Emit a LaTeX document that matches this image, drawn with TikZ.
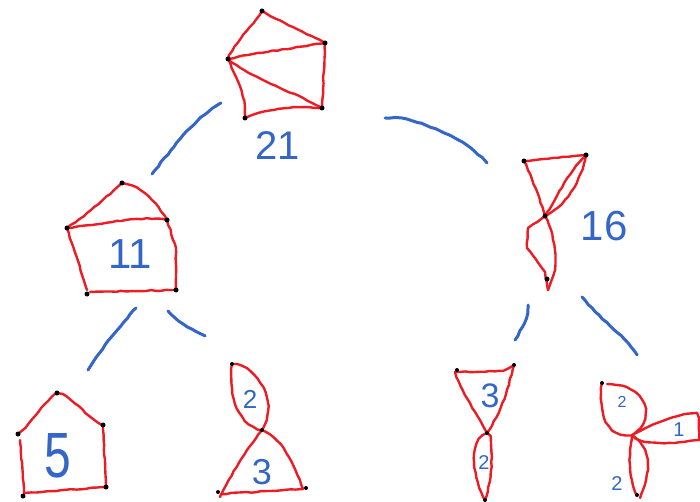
\documentclass[tikz,border=0pt]{standalone}
\usepackage{fontspec}
\setmainfont{Liberation Sans}
\usetikzlibrary{decorations.pathmorphing}
\definecolor{pred}{RGB}{237,28,36}
\definecolor{pblue}{RGB}{52,102,200}
\tikzset{
  redline/.style={draw=pred,line width=2.4pt,line cap=round,line join=round,
    decorate,decoration={random steps,segment length=5pt,amplitude=0.5pt}},
  arcline/.style={draw=pblue,line width=3pt,line cap=round,line join=round,
    decorate,decoration={random steps,segment length=5pt,amplitude=0.6pt}},
  vdot/.style={fill=black,circle,inner sep=0pt,minimum size=5pt},
  lbl/.style={text=pblue,inner sep=0pt,font=\fontsize{#1}{#1}\selectfont},
}
\begin{document}
\begin{tikzpicture}[x=1pt,y=-1pt]
\pgfmathsetseed{7}
\useasboundingbox (0,0) rectangle (700,502);
\fill[white] (0,0) rectangle (700,502);

% ---------- top graph (21)
\coordinate (tT) at (262,11);
\coordinate (tR) at (325,43);
\coordinate (tL) at (228,59);
\coordinate (tBR) at (322,108);
\coordinate (tBL) at (245,118);
\draw[redline] (tT) .. controls (280,22) and (300,30) .. (tR);
\draw[redline] (tT) .. controls (245,35) and (235,42) .. (tL);
\draw[redline] (tL) .. controls (260,52) and (295,48) .. (tR);
\draw[redline] (tL) .. controls (255,80) and (290,90) .. (tBR);
\draw[redline] (tL) .. controls (240,85) and (245,95) .. (tBL);
\draw[redline] (tBL) .. controls (270,108) and (295,106) .. (tBR);
\draw[redline] (tR) -- (tBR);
\foreach \p in {tT,tR,tL,tBR,tBL} \node[vdot] at (\p) {};
\node[lbl=40] (l21) at (278,146) {21};

% ---------- graph 11
\coordinate (aT) at (122,183);
\coordinate (aR) at (167,220);
\coordinate (aL) at (67,228);
\coordinate (aK) at (176,248);
\coordinate (aBR) at (176,290);
\coordinate (aBL) at (87,294);
\draw[redline] (aL) .. controls (90,212) and (105,198) .. (aT);
\draw[redline] (aT) .. controls (140,186) and (155,200) .. (aR);
\draw[redline] (aL) .. controls (100,225) and (140,215) .. (aR);
\draw[redline] (aR) -- (aK) -- (aBR);
\draw[redline] (aBR) -- (90,292);
\draw[redline] (aL) -- (87,290);
\foreach \p in {aT,aR,aL,aBR,aBL} \node[vdot] at (\p) {};
\node[lbl=42] (l11) at (130,254) {11};

% ---------- graph 16
\coordinate (cTL) at (524,161);
\coordinate (cTR) at (586,155);
\coordinate (cM) at (545,216);
\coordinate (cB) at (547,279);
\draw[redline] (cTL) -- (cTR);
\draw[redline] (cTL) .. controls (535,185) and (540,200) .. (cM);
\draw[redline] (cTR) .. controls (570,170) and (555,200) .. (cM);
\draw[redline] (cTR) .. controls (580,185) and (565,205) .. (cM);
\draw[redline] (cM) -- (528,228) -- (527,248) -- (535,258) -- (545,272) -- (548,290);
\draw[redline] (cM) .. controls (554,235) and (556,250) .. (555,270) -- (548,290);
\foreach \p in {cTL,cTR,cM,cB} \node[vdot] at (\p) {};
\node[lbl=42] (l16) at (604,226) {16};

% ---------- graph 5
\coordinate (dT) at (57,393);
\coordinate (dR) at (103,425);
\coordinate (dBR) at (106,487);
\coordinate (dBL) at (23,496);
\coordinate (dL) at (18,434);
\draw[redline] (dT) -- (63,394) .. controls (80,405) and (90,420) .. (dR);
\draw[redline] (dR) -- (dBR) -- (24,493) -- (20,440);
\draw[redline] (dL) .. controls (35,420) and (45,400) .. (dT);
\foreach \p in {dT,dR,dBR,dBL,dL} \node[vdot] at (\p) {};
\node[lbl=64,xscale=0.75] (l5) at (58,456) {5};

% ---------- graph 2/3
\coordinate (eT) at (232,364);
\coordinate (eM) at (262,430);
\coordinate (eBL) at (218,492);
\coordinate (eBR) at (306,488);
\draw[redline] (eT) .. controls (255,365) and (280,400) .. (eM);
\draw[redline] (eT) .. controls (228,400) and (240,425) .. (eM);
\draw[redline] (eM) .. controls (250,445) and (230,475) .. (220,497);
\draw[redline] (221,494) -- (303,489);
\draw[redline] (303,489) .. controls (290,455) and (280,438) .. (eM);
\foreach \p in {eT,eM,eBL,eBR} \node[vdot,minimum size=4pt] at (\p) {};
\node[lbl=26] (l2a) at (250,399) {2};
\node[lbl=36] (l3a) at (262,472) {3};

% ---------- graph 3/2
\coordinate (fTL) at (457,370);
\coordinate (fTR) at (514,365);
\coordinate (fM) at (487,433);
\coordinate (fB) at (485,500);
\draw[redline] (455,372) -- (503,371) -- (fTR);
\draw[redline] (fTR) .. controls (507,390) and (505,405) .. (fM);
\draw[redline] (455,372) .. controls (465,400) and (478,415) .. (fM);
\draw[redline] (fM) .. controls (470,440) and (470,470) .. (fB);
\draw[redline] (fM) .. controls (495,440) and (492,480) .. (fB);
\foreach \p in {fTL,fTR,fM,fB} \node[vdot,minimum size=4pt] at (\p) {};
\node[lbl=34] (l3b) at (490,396) {3};
\node[lbl=20] (l2b) at (484,463) {2};

% ---------- graph 2/1/2
\coordinate (gT) at (602,383);
\coordinate (gC) at (632,435);
\coordinate (gB) at (637,495);
\draw[redline] (607,384) .. controls (650,385) and (655,420) .. (gC);
\draw[redline] (gT) .. controls (598,410) and (605,438) .. (gC);
\draw[redline] (gC) .. controls (655,423) and (680,413) .. (697,413) -- (699,418) -- (699,440);
\draw[redline] (699,440) .. controls (670,443) and (645,447) .. (gC);
\draw[redline] (gC) .. controls (628,460) and (630,485) .. (gB);
\draw[redline] (gC) .. controls (655,450) and (648,480) .. (640,498);
\foreach \p in {gT,gB} \node[vdot,minimum size=4pt] at (\p) {};
\node[lbl=16] (l2c) at (622,402) {2};
\node[lbl=20] (l1c) at (679,430) {1};
\node[lbl=20] (l2d) at (617,484) {2};

% ---------- connectors (arcs)
\coordinate (k1a) at (152,174); \coordinate (k1b) at (221,103);
\coordinate (k2a) at (385,118); \coordinate (k2b) at (487,163);
\coordinate (k3a) at (88,370);  \coordinate (k3b) at (136,308);
\coordinate (k4a) at (168,311); \coordinate (k4b) at (205,336);
\coordinate (k5a) at (515,340); \coordinate (k5b) at (528,305);
\coordinate (k6a) at (582,297); \coordinate (k6b) at (637,355);
\draw[arcline] (k1a) .. controls (175,145) and (195,118) .. (k1b);
\draw[arcline] (k2a) -- (402,118) .. controls (440,128) and (465,140) .. (k2b);
\draw[arcline] (k3a) .. controls (105,345) and (120,325) .. (k3b);
\draw[arcline] (k4a) .. controls (180,325) and (195,330) .. (k4b);
\draw[arcline] (k5a) .. controls (522,328) and (528,320) .. (k5b);
\draw[arcline] (k6a) .. controls (600,320) and (625,335) .. (k6b);
\end{tikzpicture}
\end{document}
